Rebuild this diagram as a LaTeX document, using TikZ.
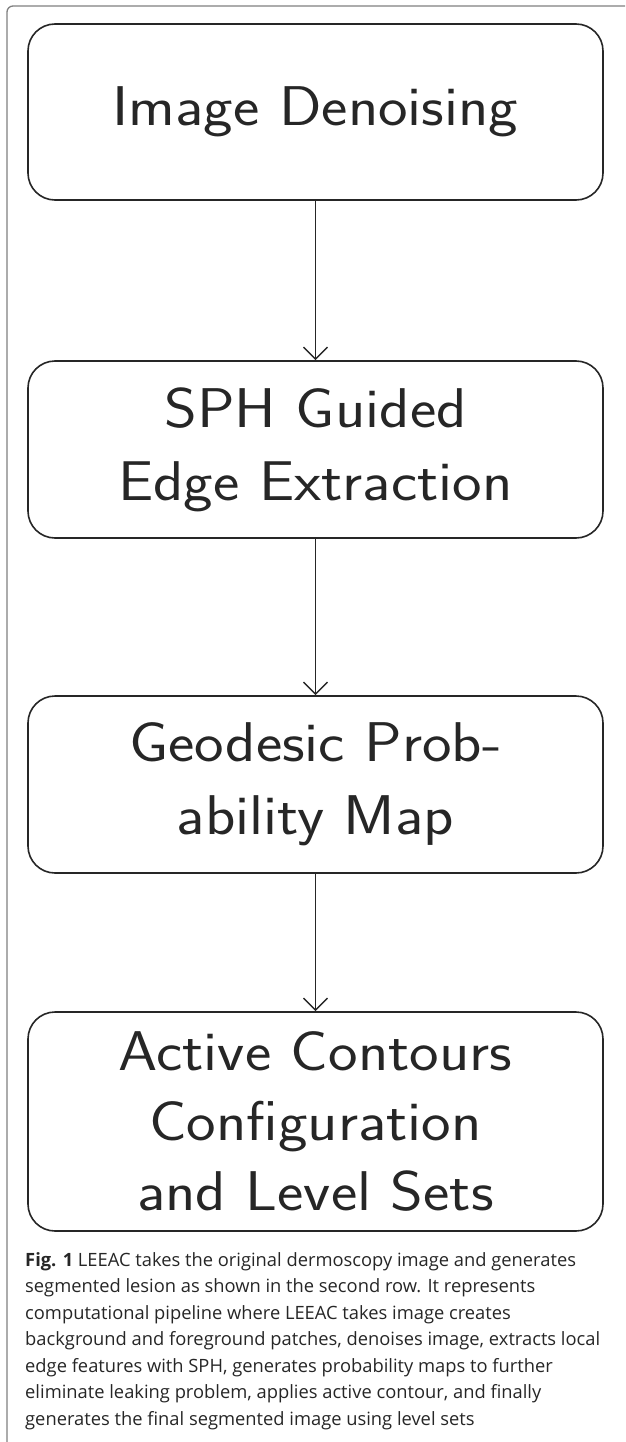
\documentclass[tikz,border=0pt]{standalone}
\usepackage{fontspec}
\usepackage{graphicx}
\newfontfamily\capfont{Open Sans}
\usetikzlibrary{arrows.meta}
\newlength\capw
\newcommand\wideline[1]{\scalebox{1.12}[1]{#1}}
\AtBeginDocument{%
  \settowidth\capw{\capfont\fontsize{10}{12}\selectfont background and foreground patches, denoises image, extracts local}%
  \pgfmathsetmacro\capsize{10*575/\capw}%
  \xdef\capsize{\capsize}}
\begin{document}
\begin{tikzpicture}[x=1pt,y=-1pt,
  stepbox/.style={draw=black!85, line width=1.6pt, rounded corners=27pt,
    minimum width=575pt, inner sep=0pt, align=center, text=black!85,
    font=\sffamily\fontsize{56}{73}\selectfont},
  arr/.style={-{Straight Barb[length=12pt,width=24pt]}, line width=1.4pt, draw=black!85},
  framestyle/.style={draw=black!50, line width=1.3pt, rounded corners=6pt}]
\useasboundingbox (0,0) rectangle (625,1442);
\coordinate (fa) at (7,1442);
\coordinate (fb) at (7,6);
\coordinate (fc) at (625,6);
\draw[framestyle] (fa) -- (fb) -- (fc);
\node[stepbox, minimum height=176pt] (b1) at (315.5,112) {\wideline{Image Denoising}};
\node[stepbox, minimum height=177pt] (b2) at (315.5,449.5) {\wideline{SPH Guided}\\\wideline{Edge Extraction}};
\node[stepbox, minimum height=177pt] (b3) at (315.5,784.5) {\wideline{Geodesic Prob-}\\\wideline{ability Map}};
\node[stepbox, minimum height=219pt, font=\sffamily\fontsize{56}{70}\selectfont] (b4) at (315.5,1121.5) {\wideline{Active Contours}\\\wideline{Configuration}\\\wideline{and Level Sets}};
\draw[arr] (b1) -- (b2);
\draw[arr] (b2) -- (b3);
\draw[arr] (b3) -- (b4);
\node[anchor=base west, align=left, inner sep=0pt, text=black!85,
  font=\capfont\fontsize{\capsize}{26.5}\selectfont] (cap) at (25,1425)
  {\textbf{Fig. 1} LEEAC takes the original dermoscopy image and generates\\
   segmented lesion as shown in the second row. It represents\\
   computational pipeline where LEEAC takes image creates\\
   background and foreground patches, denoises image, extracts local\\
   edge features with SPH, generates probability maps to further\\
   eliminate leaking problem, applies active contour, and finally\\
   generates the final segmented image using level sets};
\end{tikzpicture}
\end{document}
